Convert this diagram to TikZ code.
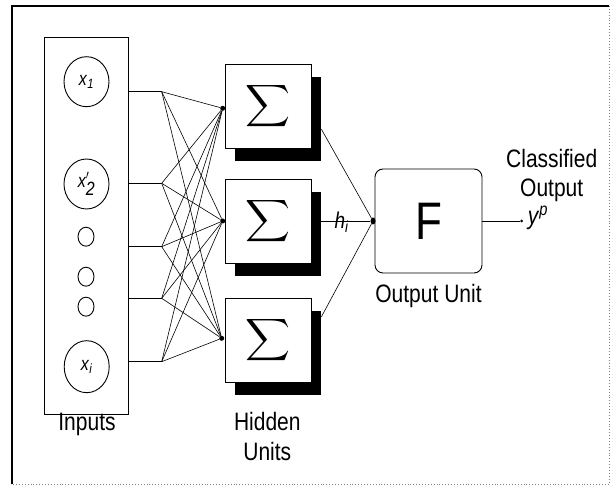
\documentclass[tikz,border=0pt]{standalone}
\usepackage{fontspec}
\setmainfont{Liberation Sans}
\usetikzlibrary{shapes.geometric,shadows}
\newcommand{\vst}[1]{\scalebox{1}[1.2]{#1}}
\begin{document}
\begin{tikzpicture}[x=1pt,y=1pt,
  wire/.style={line width=0.6pt,black},
  lbl/.style={font=\fontsize{21}{23}\selectfont, inner sep=0pt},
  incirc/.style={draw, ellipse, line width=0.9pt, minimum width=45pt, minimum height=50pt, inner sep=0pt, font=\fontsize{16}{18}\selectfont},
  smallcirc/.style={draw, ellipse, line width=0.9pt, minimum width=16pt, minimum height=19pt, inner sep=0pt},
  dot/.style={circle, fill=black, minimum size=5pt, inner sep=0pt},
  hbox/.style={draw, line width=0.9pt, fill=white, minimum width=86pt, minimum height=84pt, inner sep=0pt,
     drop shadow={shadow xshift=10pt, shadow yshift=-13pt, fill=black, opacity=1}},
  fbox/.style={draw, line width=0.9pt, rounded corners=8pt, minimum width=107pt, minimum height=104pt, inner sep=0pt}
]
\useasboundingbox (0,0) rectangle (612,486);
% frame
\draw[line width=1.2pt] (12,2) -- (12,480) -- (609,480);
\draw[gray, dotted, line width=0.9pt] (609,480) -- (609,2) -- (12,2);

% inputs
\node[draw, line width=0.9pt, minimum width=84pt, minimum height=377pt, inner sep=0pt] (inbox) at (86,260.5) {};
\node[incirc] (c1) at (86.5,404.3) {\vst{\textit{x}\textsubscript{\textit{1}}}};
\node[incirc] (c2) at (86.5,302) {\vst{$\textit{x}'_{\textit{2}}$}};
\node[smallcirc] (s1) at (86,249.3) {};
\node[smallcirc] (s2) at (86,209.3) {};
\node[smallcirc] (s3) at (86,179.3) {};
\node[incirc, minimum height=52pt] (c3) at (86.7,119.3) {\vst{\textit{x}\textsubscript{\textit{i}}}};
\node[lbl] (inlbl) at (87,62) {\vst{Inputs}};

% fan points
\coordinate (f1) at (161.7,394.3);
\coordinate (f2) at (161.7,302.7);
\coordinate (f3) at (161.7,239.3);
\coordinate (f4) at (161.7,187.7);
\coordinate (f5) at (161.7,124.3);

% hidden units
\node[hbox] (b1) at (268,380) {\resizebox*{45pt}{47pt}{$\displaystyle\sum$}};
\node[hbox] (b2) at (268,265) {\resizebox*{45pt}{47pt}{$\displaystyle\sum$}};
\node[hbox] (b3) at (268,146) {\resizebox*{45pt}{47pt}{$\displaystyle\sum$}};
\node[dot] (d1) at (222.7,377.7) {};
\node[dot] (d2) at (222.7,265) {};
\node[dot] (d3) at (221.7,147.7) {};
\node[lbl] (hid1) at (267.3,64.3) {\vst{Hidden}};
\node[lbl] (hid2) at (267.3,34.3) {\vst{Units}};

\foreach \f in {f1,f2,f3,f4,f5}{
  \draw[wire] (inbox.east |- \f) -- (\f);
  \foreach \d in {d1,d2,d3}{ \draw[wire] (\f) -- (\d); }
}

% output unit
\node[fbox] (F) at (428.5,265) {\fontsize{44}{48}\selectfont\vst{F}};
\node[dot, minimum width=5pt, minimum height=7pt, ellipse] (od) at (373,265) {};
\node[lbl] (oulbl) at (428.5,190) {\vst{Output Unit}};
\draw[wire] ([xshift=10pt,yshift=-23.3pt]b1.east) -- (od);
\draw[wire] ([xshift=10pt]b2.east) -- (od);
\draw[wire] ([xshift=10pt,yshift=23.3pt]b3.east) -- (od);
\node[font=\fontsize{19}{21}\selectfont, inner sep=0pt] (hlbl) at (341.7,264) {\vst{\textit{h}\textsubscript{\textit{i}}}};

% classified output
\node[circle, fill=black, minimum size=3pt, inner sep=0pt] (oend) at (521.7,265) {};
\draw[wire] (F.east) -- (oend);
\node[lbl] (ylbl) at (538,268) {\vst{\textit{y}\textsuperscript{\textit{p}}}};
\node[lbl] (cl1) at (551.7,327.7) {\vst{Classified}};
\node[lbl] (cl2) at (551.7,296) {\vst{Output}};
\end{tikzpicture}
\end{document}
